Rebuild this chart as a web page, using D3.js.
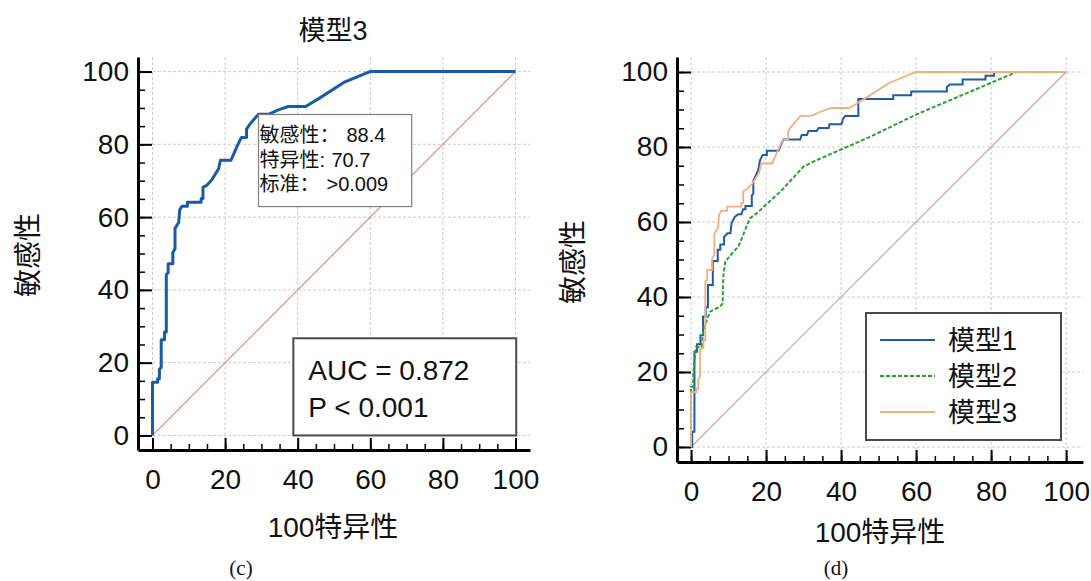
<!doctype html>
<html lang="zh">
<head>
<meta charset="utf-8">
<title>ROC</title>
<script src="https://d3js.org/d3.v7.min.js"></script>
<style>
  body { margin: 0; background: #fff; }
  svg text { font-family: "Liberation Sans", "Noto Sans CJK SC", sans-serif; fill: #111; }
  .grid line { stroke: #cccccc; stroke-width: 1; stroke-dasharray: 3,2; }
  .axis path, .axis line { stroke: #000; }
</style>
</head>
<body>
<svg id="chart" width="1091" height="581"></svg>
<script>
// tick values
var majorTicks = [0, 20, 40, 60, 80, 100];
var minorTicks = [0, 5, 10, 15, 20, 25, 30, 35, 40, 45, 50, 55, 60, 65, 70, 75, 80, 85, 90, 95, 100];

// [100-specificity, sensitivity]
var diagonal = [[0, 0], [100, 100]];

var model3 = [[0,0],[0,14.6],[1.4,14.6],[1.4,15.6],[1.9,15.6],[1.9,18.2],[2.4,18.7],[2.4,26.3],[3.3,26.3],
  [3.3,28.4],[3.8,28.4],[3.8,44.2],[4.3,44.7],[4.3,47.2],[5.6,47.2],[5.6,50.3],[6.2,51.3],[6.2,56.9],
  [7.2,58.5],[7.5,62],[8.1,63],[9.6,63],[9.6,64.1],[13.4,64.1],[13.4,65.1],[13.9,65.1],[13.9,68.2],
  [14.9,68.7],[16.3,70.2],[18.2,73.3],[18.7,75.6],[21.6,75.6],[23.5,79.9],[24.5,81.9],[25.9,81.9],
  [25.9,84.2],[26.8,85.5],[29.2,88.3],[32.1,88.3],[34.5,89.4],[37.4,90.4],[42.2,90.4],[46,92.7],
  [52.7,97],[59.9,100],[100,100]];

var model1 = [[0,0],[0.3,0],[0.3,4.1],[0.9,4.1],[0.9,25.4],[1.6,25.4],[1.6,27.4],[2.5,27.4],[2.5,29.8],
  [3.2,29.8],[3.2,34.8],[3.9,34.8],[3.9,37.3],[4.5,37.3],[4.5,43.2],[5.8,43.2],[5.8,49.6],[7.1,49.6],
  [7.1,52.6],[7.8,52.6],[7.8,54],[8.8,54],[8.8,56],[9.7,57],[10.5,57],[10.8,59.8],[11.7,61.4],
  [12.6,62.1],[13.4,62.1],[13.9,63.4],[14.5,63.4],[14.5,64.3],[16.2,64.3],[16.2,67.1],[16.6,67.5],
  [16.6,71],[17.3,72.5],[17.9,73.9],[18.4,76.5],[19.1,77.9],[20.2,77.9],[20.2,79],[23.3,79],[24.6,82],
  [29.1,82],[29.5,83.2],[30.9,83.2],[31.3,84.3],[33.5,84.3],[34,85.1],[36.7,85.1],[36.9,86.1],
  [40.1,86.1],[40.6,87.6],[41.1,88.3],[44.6,88.3],[44.6,92.8],[53.9,92.8],[53.9,93.8],[58.7,93.8],
  [58.7,94.8],[68.2,94.8],[68.2,96],[69,96.7],[72.4,96.7],[72.4,98],[78.5,98],[78.5,99],[80.8,99],
  [80.8,100],[100,100]];

var model2 = [[0,0],[0,16.1],[0.6,16.1],[0.6,19.6],[1.3,26.7],[2.8,26.7],[3.3,31.2],[4.2,33.9],
  [5.1,36.1],[7.7,37.4],[8.4,38.3],[8.6,45.4],[9.1,49.4],[11.3,52.1],[12.6,53.4],[15.7,61],
  [17.5,62.3],[24.2,68.5],[29.9,74.7],[32.6,76.1],[47.7,82.7],[59.9,88.6],[86.8,100],[100,100]];

var legendNames = ["模型1", "模型2", "模型3"];
var infoLabels = ["敏感性：", "特异性:", "标准："];
var infoValues = ["88.4", "70.7", ">0.009"];
var aucLines = ["AUC = 0.872", "P < 0.001"];

var svg = d3.select("#chart");

function panel(o) {
  var x = d3.scaleLinear().domain(o.xd).range([o.left, o.right]);
  var y = d3.scaleLinear().domain(o.yd).range([o.bottom, o.top]);
  var g = svg.append("g");

  // grid
  var grid = g.append("g").attr("class", "grid");
  grid.selectAll(".gv").data(majorTicks).enter().append("line")
    .attr("x1", d => x(d)).attr("x2", d => x(d))
    .attr("y1", o.top).attr("y2", o.bottom);
  grid.selectAll(".gh").data(majorTicks).enter().append("line")
    .attr("x1", o.left).attr("x2", o.right)
    .attr("y1", d => y(d)).attr("y2", d => y(d));

  // minor ticks
  g.append("g").attr("class", "axis")
    .attr("transform", "translate(0," + o.bottom + ")")
    .call(d3.axisBottom(x).tickValues(minorTicks).tickSize(-6).tickSizeOuter(0).tickFormat(""))
    .call(s => s.selectAll("line").attr("stroke-width", 1.5))
    .call(s => s.select(".domain").remove());
  g.append("g").attr("class", "axis")
    .attr("transform", "translate(" + o.left + ",0)")
    .call(d3.axisLeft(y).tickValues(minorTicks).tickSize(-7).tickSizeOuter(0).tickFormat(""))
    .call(s => s.selectAll("line").attr("stroke-width", 1.5))
    .call(s => s.select(".domain").remove());

  // major ticks + labels
  var xa = g.append("g").attr("class", "axis")
    .attr("transform", "translate(0," + o.bottom + ")")
    .call(d3.axisBottom(x).tickValues(majorTicks).tickSize(-12).tickSizeOuter(0).tickPadding(19));
  xa.selectAll("line").attr("stroke-width", 2);
  xa.select(".domain").attr("stroke-width", 3);
  xa.selectAll("text").attr("font-size", 28).attr("dy", "0.7em");

  var ya = g.append("g").attr("class", "axis")
    .attr("transform", "translate(" + o.left + ",0)")
    .call(d3.axisLeft(y).tickValues(majorTicks).tickSize(-14).tickSizeOuter(0).tickPadding(9));
  ya.selectAll("line").attr("stroke-width", 2);
  ya.select(".domain").attr("stroke-width", 3);
  ya.selectAll("text").attr("font-size", 28);

  // diagonal
  var line = d3.line().x(d => x(d[0])).y(d => y(d[1]));
  g.append("path").datum(diagonal).attr("d", line)
    .attr("fill", "none").attr("stroke", o.diagColor).attr("stroke-width", 1.1);

  // axis titles
  g.append("text").attr("x", (o.left + o.right) / 2 + o.xtDx).attr("y", o.xtY)
    .attr("text-anchor", "middle").attr("font-size", 28).text("100特异性");
  g.append("text").attr("transform", "translate(" + o.ytX + "," + o.ytY + ") rotate(-90)")
    .attr("text-anchor", "middle").attr("font-size", 28).text("敏感性");
  g.append("text").attr("x", o.capX).attr("y", 575)
    .attr("text-anchor", "middle").attr("font-size", 21)
    .style("font-family", "'Liberation Serif', serif").text(o.caption);

  return {g: g, x: x, y: y, line: line};
}

// ---- panel (c)
var c = panel({left: 138, right: 530, top: 57, bottom: 450, xd: [-4, 104], yd: [-4, 104],
  diagColor: "#e07f7f", xtDx: -1, xtY: 537, ytX: 38, ytY: 255, capX: 241, caption: "(c)"});

svg.append("text").attr("x", 333).attr("y", 40).attr("text-anchor", "middle")
  .attr("font-size", 27).text("模型3");

c.g.append("path").datum(model3).attr("d", c.line)
  .attr("fill", "none").attr("stroke", "#1a5ba6").attr("stroke-width", 3)
  .attr("stroke-linejoin", "round");

// info box
var bx0 = c.x(29.2), bx1 = c.x(71.4), by0 = c.y(88.2), by1 = c.y(62.9);
c.g.append("rect").attr("x", bx0).attr("y", by0).attr("width", bx1 - bx0).attr("height", by1 - by0)
  .attr("fill", "#fff").attr("stroke", "#808080").attr("stroke-width", 1.2);
var valueDx = [88, 73, 68];
infoLabels.forEach(function (t, i) {
  var tx = c.g.append("text").attr("x", bx0 + 1).attr("y", by0 + 28 + i * 24.5).attr("font-size", 20);
  tx.append("tspan").text(t);
  tx.append("tspan").attr("x", bx0 + valueDx[i]).text(infoValues[i]);
});

// AUC box
var ax0 = c.x(38.8), ax1 = c.x(100.2), ay0 = c.y(26.7), ay1 = c.y(0);
c.g.append("rect").attr("x", ax0).attr("y", ay0).attr("width", ax1 - ax0).attr("height", ay1 - ay0)
  .attr("fill", "#fff").attr("stroke", "#4a4a4a").attr("stroke-width", 2);
aucLines.forEach(function (t, i) {
  c.g.append("text").attr("x", ax0 + 15).attr("y", ay0 + 42 + i * 37).attr("font-size", 28).text(t);
});

// ---- panel (d)
var d = panel({left: 677, right: 1083, top: 57, bottom: 462, xd: [-3.75, 104.5], yd: [-4, 104],
  diagColor: "#d69aa6", xtDx: 0, xtY: 542, ytX: 583, ytY: 262, capX: 836, caption: "(d)"});

var styles = [
  {data: model1, color: "#1f5ca8", width: 2, dash: null},
  {data: model2, color: "#2ca02c", width: 2, dash: "4,2"},
  {data: model3, color: "#f0b07c", width: 1.8, dash: null}
];
styles.forEach(function (s) {
  d.g.append("path").datum(s.data).attr("d", d.line)
    .attr("fill", "none").attr("stroke", s.color).attr("stroke-width", s.width)
    .attr("stroke-dasharray", s.dash);
});

// legend
var lg = d.g.append("g").attr("transform", "translate(866,313)");
lg.append("rect").attr("width", 195).attr("height", 127)
  .attr("fill", "#fff").attr("stroke", "#4a4a4a").attr("stroke-width", 2);
legendNames.forEach(function (n, i) {
  var yy = 27 + i * 36;
  lg.append("line").attr("x1", 14).attr("x2", 69).attr("y1", yy).attr("y2", yy)
    .attr("stroke", styles[i].color).attr("stroke-width", styles[i].width)
    .attr("stroke-dasharray", styles[i].dash);
  lg.append("text").attr("x", 82).attr("y", yy + 10).attr("font-size", 27).text(n);
});
</script>
</body>
</html>
